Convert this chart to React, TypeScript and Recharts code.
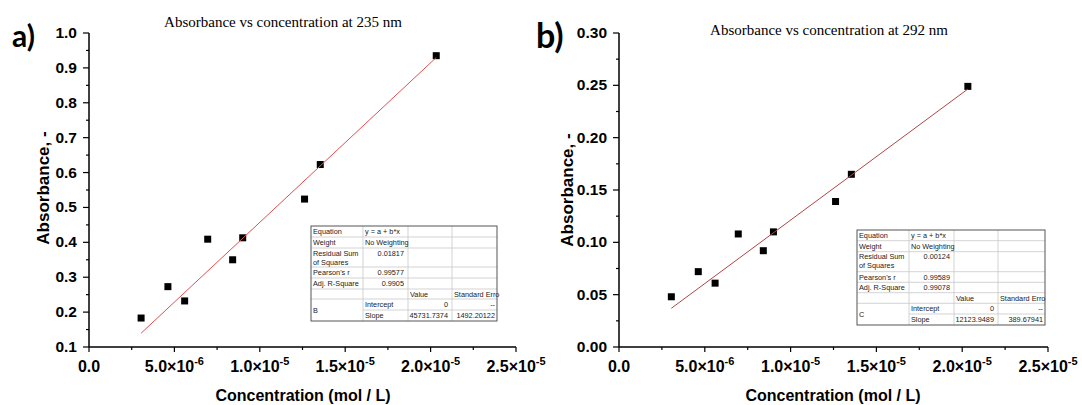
import React from 'react';
import { ScatterChart, Scatter, XAxis, YAxis } from 'recharts';

// ---------- data ----------
const concentration = [3.05e-6, 4.62e-6, 5.6e-6, 6.95e-6, 8.41e-6, 9.0e-6, 12.62e-6, 13.54e-6, 20.33e-6];
const absorbance235 = [0.183, 0.273, 0.232, 0.409, 0.350, 0.413, 0.524, 0.623, 0.935];
const absorbance292 = [0.048, 0.072, 0.061, 0.108, 0.092, 0.110, 0.139, 0.165, 0.249];
const slope235 = 45731.7374;
const slope292 = 12123.9489;

const xTicks = [0, 2.5e-6, 5e-6, 7.5e-6, 1e-5, 1.25e-5, 1.5e-5, 1.75e-5, 2e-5, 2.25e-5, 2.5e-5];
const xTickLabels: [string, string][] = [
  ['0.0', ''], ['5.0×10', '-6'], ['1.0×10', '-5'], ['1.5×10', '-5'], ['2.0×10', '-5'], ['2.5×10', '-5'],
];
const yTicks235 = [0.1, 0.15, 0.2, 0.25, 0.3, 0.35, 0.4, 0.45, 0.5, 0.55, 0.6, 0.65, 0.7, 0.75, 0.8, 0.85, 0.9, 0.95, 1.0];
const yTickLabels235 = ['0.1', '0.2', '0.3', '0.4', '0.5', '0.6', '0.7', '0.8', '0.9', '1.0'];
const yTicks292 = [0, 0.025, 0.05, 0.075, 0.1, 0.125, 0.15, 0.175, 0.2, 0.225, 0.25, 0.275, 0.3];
const yTickLabels292 = ['0.00', '0.05', '0.10', '0.15', '0.20', '0.25', '0.30'];

const tableLabels = ['Equation', 'Weight', 'Residual Sum', 'of Squares', "Pearson's r", 'Adj. R-Square'];
const stats235 = ['0.01817', '0.99577', '0.9905', 'B', '0', '--', '45731.7374', '1492.20122'];
const stats292 = ['0.00124', '0.99589', '0.99078', 'C', '0', '--', '12123.9489', '389.67941'];

// ---------- helpers ----------
const SANS = "'Liberation Sans', Arial, sans-serif";

const XTick = (props: any) => {
  const { x, y, index } = props;
  const major = index % 2 === 0;
  const lab = major ? xTickLabels[index / 2] : null;
  return (
    <g>
      <line x1={x} x2={x} y1={y} y2={y + (major ? 5 : 3)} stroke="#000" strokeWidth={1.2} />
      {lab && (
        <text x={x} y={y + 25} textAnchor="middle" fontFamily={SANS} fontWeight="bold" fontSize={16} fill="#000">
          <tspan>{lab[0]}</tspan>
          {lab[1] && <tspan dy={-7} fontSize={11}>{lab[1]}</tspan>}
        </text>
      )}
    </g>
  );
};

const makeYTick = (labels: string[], gap: number) => (props: any) => {
  const { x, y, index } = props;
  const major = index % 2 === 0;
  const lab = major ? labels[index / 2] : null;
  return (
    <g>
      <line x1={x - (major ? 6 : 3)} x2={x} y1={y} y2={y} stroke="#000" strokeWidth={1.2} />
      {lab && (
        <text x={x - gap} y={y + 5} textAnchor="end" fontFamily={SANS} fontWeight="bold" fontSize={15.5} fill="#000">
          {lab}
        </text>
      )}
    </g>
  );
};

const Square = (props: any) => (
  <rect x={props.cx - 3.5} y={props.cy - 3.5} width={7} height={7} fill="#000" />
);
const Empty = () => <g />;

type PanelProps = {
  left: number; width: number; marginLeft: number; marginRight: number;
  yTicks: number[]; yLabels: string[]; yDomain: [number, number];
  values: number[]; slope: number; lineColor: string; yGap: number;
};

function Panel(p: PanelProps) {
  const points = concentration.map((c, i) => ({ x: c, y: p.values[i] }));
  const x0 = concentration[0];
  const x1 = concentration[concentration.length - 1];
  const fit = [{ x: x0, y: p.slope * x0 }, { x: x1, y: p.slope * x1 }];
  return (
    <div style={{ position: 'absolute', left: p.left, top: 0 }}>
      <ScatterChart width={p.width} height={405} margin={{ top: 33, right: p.marginRight, bottom: 28, left: p.marginLeft }}>
        <XAxis type="number" dataKey="x" domain={[0, 2.5e-5]} ticks={xTicks} interval={0} allowDataOverflow
          tickSize={0} tickMargin={0} tickLine={false} height={30}
          axisLine={{ stroke: '#000', strokeWidth: 1.5 }} tick={XTick} />
        <YAxis type="number" dataKey="y" domain={p.yDomain} ticks={p.yTicks} interval={0} allowDataOverflow
          tickSize={0} tickMargin={0} tickLine={false} width={40}
          axisLine={{ stroke: '#000', strokeWidth: 1.5 }} tick={makeYTick(p.yLabels, p.yGap)} />
        <Scatter data={points} shape={Square} isAnimationActive={false} />
        <Scatter data={fit} line={{ stroke: p.lineColor, strokeWidth: 1 }} shape={Empty} isAnimationActive={false} />
      </ScatterChart>
    </div>
  );
}

function StatsTable({ x0, y0, cols, rows, stats }: { x0: number; y0: number; cols: number[]; rows: number[]; stats: string[] }) {
  const cx = [x0];
  cols.forEach((w) => cx.push(cx[cx.length - 1] + w));
  const ry = [y0];
  rows.forEach((h) => ry.push(ry[ry.length - 1] + h));
  const right = cx[4];
  const bottom = ry[8];
  const mid = (i: number) => (ry[i] + ry[i + 1]) / 2 + 2.6;
  const L = (c: number) => cx[c] + 2;
  const R = (c: number) => cx[c + 1] - 4;
  const txt = { fontFamily: SANS, fontSize: 7.3, fill: '#222' } as any;
  return (
    <g>
      <rect x={x0} y={y0} width={right - x0} height={bottom - y0} fill="#fff" />
      {[1, 2, 3, 4, 5, 6].map((i) => (
        <line key={'h' + i} x1={x0} x2={right} y1={ry[i]} y2={ry[i]} stroke="#c8c8c8" strokeWidth={0.8} />
      ))}
      <line x1={cx[1]} x2={right} y1={ry[7]} y2={ry[7]} stroke="#c8c8c8" strokeWidth={0.8} />
      {[1, 2, 3].map((i) => (
        <line key={'v' + i} x1={cx[i]} x2={cx[i]} y1={y0} y2={bottom} stroke="#c8c8c8" strokeWidth={0.8} />
      ))}
      <rect x={x0} y={y0} width={right - x0} height={bottom - y0} fill="none" stroke="#555" strokeWidth={1} />
      <g {...txt}>
        <text x={L(0)} y={mid(0)}>{tableLabels[0]}</text>
        <text x={L(1)} y={mid(0)}>y = a + b*x</text>
        <text x={L(0)} y={mid(1)}>{tableLabels[1]}</text>
        <text x={L(1)} y={mid(1)}>No Weighting</text>
        <text x={L(0)} y={ry[2] + 7.5}>{tableLabels[2]}</text>
        <text x={L(0)} y={ry[2] + 16.5}>{tableLabels[3]}</text>
        <text x={R(1)} y={ry[2] + 7.5} textAnchor="end">{stats[0]}</text>
        <text x={L(0)} y={mid(3)}>{tableLabels[4]}</text>
        <text x={R(1)} y={mid(3)} textAnchor="end">{stats[1]}</text>
        <text x={L(0)} y={mid(4)}>{tableLabels[5]}</text>
        <text x={R(1)} y={mid(4)} textAnchor="end">{stats[2]}</text>
        <text x={L(2)} y={mid(5)}>Value</text>
        <text x={L(3)} y={mid(5)}>Standard Erro</text>
        <text x={L(0)} y={ry[7] + 2.6}>{stats[3]}</text>
        <text x={L(1)} y={mid(6)}>Intercept</text>
        <text x={R(2)} y={mid(6)} textAnchor="end">{stats[4]}</text>
        <text x={cx[4] - 2} y={mid(6)} textAnchor="end">{stats[5]}</text>
        <text x={L(1)} y={mid(7)}>Slope</text>
        <text x={R(2)} y={mid(7)} textAnchor="end">{stats[6]}</text>
        <text x={cx[4] - 2} y={mid(7)} textAnchor="end">{stats[7]}</text>
      </g>
    </g>
  );
}

export default function App() {
  return (
    <div style={{ position: 'absolute', left: 0, top: 0, width: 1082, height: 405, background: '#fff', overflow: 'hidden' }}>
      <Panel left={0} width={560} marginLeft={49} marginRight={44}
        yTicks={yTicks235} yLabels={yTickLabels235} yDomain={[0.1, 1.0]}
        values={absorbance235} slope={slope235} lineColor="#e05050" yGap={12} />
      <Panel left={540} width={542} marginLeft={39} marginRight={34}
        yTicks={yTicks292} yLabels={yTickLabels292} yDomain={[0, 0.3]}
        values={absorbance292} slope={slope292} lineColor="#b04545" yGap={12} />
      <svg width={1082} height={405} style={{ position: 'absolute', left: 0, top: 0, pointerEvents: 'none' }}>
        <text x={12} y={47} fontFamily="Lato, 'Open Sans', sans-serif" fontWeight="bold" fontSize={30} fill="#000">a)</text>
        <text x={536} y={48} fontFamily="Lato, 'Open Sans', sans-serif" fontWeight="bold" fontSize={34} fill="#000">b)</text>
        <text x={283} y={27} textAnchor="middle" fontFamily="'Liberation Serif', 'Times New Roman', serif" fontSize={15} fill="#000">
          Absorbance vs concentration at 235 nm
        </text>
        <text x={829} y={35} textAnchor="middle" fontFamily="'Liberation Serif', 'Times New Roman', serif" fontSize={15} fill="#000">
          Absorbance vs concentration at 292 nm
        </text>
        <text transform="translate(43,188) rotate(-90)" textAnchor="middle" dy="0.35em" fontFamily={SANS} fontWeight="bold" fontSize={17} fill="#000">
          Absorbance, -
        </text>
        <text transform="translate(567,190) rotate(-90)" textAnchor="middle" dy="0.35em" fontFamily={SANS} fontWeight="bold" fontSize={17} fill="#000">
          Absorbance, -
        </text>
        <text x={303} y={401} textAnchor="middle" fontFamily={SANS} fontWeight="bold" fontSize={16} fill="#000">
          Concentration (mol / L)
        </text>
        <text x={833} y={401} textAnchor="middle" fontFamily={SANS} fontWeight="bold" fontSize={16} fill="#000">
          Concentration (mol / L)
        </text>
        <StatsTable x0={311} y0={226} cols={[52, 45, 44, 45]} rows={[11, 11, 19, 11, 11, 10, 11, 11]} stats={stats235} />
        <StatsTable x0={857} y0={230} cols={[52, 45, 44, 47]} rows={[10.7, 11, 20, 10.6, 10.4, 10.6, 10.7, 11]} stats={stats292} />
      </svg>
    </div>
  );
}
